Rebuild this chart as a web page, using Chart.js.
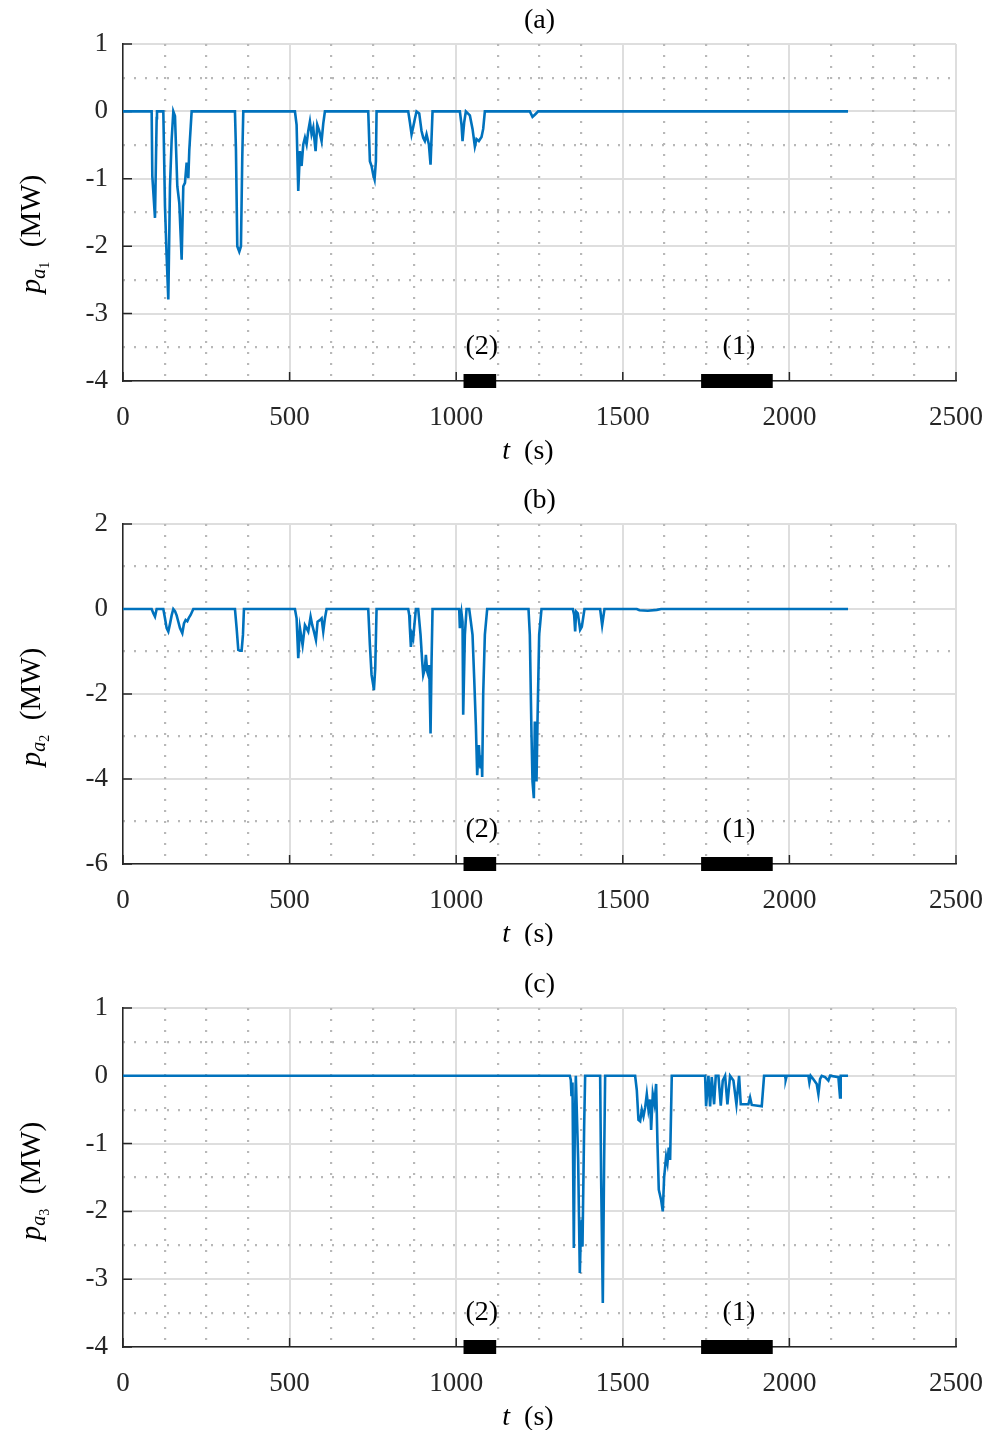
<!DOCTYPE html>
<html>
<head>
<meta charset="utf-8">
<script src="https://cdn.jsdelivr.net/npm/chart.js@4"></script>
<style>
body { margin: 0; background: #fff; }
#fig { position: relative; width: 989px; height: 1430px; background: #fff; }
canvas { position: absolute; left: 0; }
</style>
</head>
<body>
<div id="fig">
<canvas id="cA" width="989" height="466" style="top:0px"></canvas>
<canvas id="cB" width="989" height="466" style="top:480px"></canvas>
<canvas id="cC" width="989" height="466" style="top:964px"></canvas>
</div>
<script>
// time axis ticks (s)
var tTicks = [0, 500, 1000, 1500, 2000, 2500];

// events shown under the axes
var eventStart = [1022, 1735];
var eventEnd = [1120, 1950];
var eventNames = ['(2)', '(1)'];

// (a) p_a1 (MW)
var tA = [0, 86, 88, 96, 101, 102, 121, 126, 131, 136, 141, 146, 151, 156, 163, 169, 176, 181, 186, 191, 196, 199, 206,
  336, 339, 343, 349, 354, 358, 361,
  516, 521, 526, 531, 536, 541, 546, 551, 556, 561, 566, 571, 578, 583, 589, 596, 601, 606,
  736, 741, 746, 751, 755, 759, 761,
  856, 861, 866, 871, 876, 881, 889, 896, 901, 906, 911, 918, 923, 929,
  1011, 1016, 1019, 1024, 1029, 1041, 1049, 1056, 1061, 1068, 1076, 1081, 1086,
  1221, 1229, 1236, 1246, 2176];
var pA = [0, 0, -0.96, -1.58, -0.1, 0, 0, -1.41, -2.15, -2.79, -1.11, -0.42, 0, -0.07, -1.11, -1.36, -2.2, -1.11, -1.06, -0.76, -0.99, -0.57, 0,
  0, -0.57, -2.0, -2.08, -2.0, -0.67, 0,
  0, -0.2, -1.18, -0.59, -0.81, -0.49, -0.39, -0.49, -0.29, -0.15, -0.34, -0.24, -0.59, -0.2, -0.29, -0.44, -0.18, 0,
  0, -0.74, -0.81, -0.94, -1.01, -0.74, 0,
  0, -0.16, -0.34, -0.23, -0.11, 0, -0.03, -0.29, -0.39, -0.44, -0.34, -0.49, -0.79, 0,
  0, -0.2, -0.44, -0.16, 0, -0.06, -0.26, -0.52, -0.41, -0.44, -0.38, -0.26, 0,
  0, -0.08, -0.05, 0, 0];

// (b) p_a2 (MW)
var tB = [0, 86, 91, 96, 101, 121, 126, 131, 136, 141, 146, 151, 156, 161, 166, 171, 178, 183, 188, 193, 198, 203, 211,
  336, 341, 346, 351, 356, 360, 363,
  516, 521, 526, 531, 539, 546, 551, 556, 563, 568, 573, 579, 584, 591, 596, 601, 606, 611,
  736, 741, 746, 751, 753, 757, 761,
  856, 859, 861, 864, 868, 871, 874, 879, 886, 893, 898, 901, 906, 909, 913, 916, 919, 923, 926, 929,
  1009, 1011, 1016, 1019, 1021, 1026, 1031, 1039, 1044, 1049, 1054, 1059, 1063, 1068, 1071, 1073, 1076, 1078, 1081, 1086, 1093,
  1217, 1221, 1226, 1229, 1233, 1236, 1241, 1244, 1249, 1256,
  1350, 1354, 1357, 1360, 1365, 1372, 1377, 1385,
  1432, 1438, 1445,
  1542, 1550, 1575, 1602, 1615, 2176];
var pB = [0, 0, -0.1, -0.18, 0, 0, -0.22, -0.45, -0.53, -0.35, -0.15, 0, -0.05, -0.15, -0.3, -0.45, -0.57, -0.34, -0.26, -0.29, -0.2, -0.14, 0,
  0, -0.45, -0.96, -0.98, -0.98, -0.61, 0,
  0, -0.22, -1.16, -0.45, -0.85, -0.38, -0.45, -0.53, -0.18, -0.38, -0.53, -0.73, -0.3, -0.26, -0.22, -0.53, -0.22, 0,
  0, -0.85, -1.55, -1.79, -1.91, -1.4, 0,
  0, -0.14, -0.45, -0.89, -0.61, -0.69, -0.42, 0, 0, -0.61, -1.24, -1.55, -1.4, -1.08, -1.47, -1.55, -1.32, -2.93, -1.24, 0,
  0, -0.45, -0.1, -0.3, -2.49, -0.61, 0, 0, -0.3, -0.61, -1.63, -2.73, -3.91, -3.2, -3.6, -3.75, -3.44, -3.95, -2.02, -0.61, 0,
  0, -0.61, -2.96, -4.06, -4.45, -2.65, -4.06, -2.65, -0.61, 0,
  0, -0.14, -0.53, -0.06, -0.1, -0.49, -0.42, 0,
  0, -0.38, 0,
  0, -0.03, -0.04, -0.02, 0, 0];

// (c) p_a3 (MW)
var tC = [0, 1341, 1344, 1346, 1349, 1353, 1356, 1359, 1366, 1371, 1374, 1377, 1379, 1384, 1387,
  1432, 1435, 1440, 1444, 1447,
  1537, 1542, 1547, 1552, 1557, 1562, 1567, 1572, 1577, 1582, 1585, 1590, 1595, 1600, 1604, 1608, 1615, 1620, 1624, 1630, 1634, 1638, 1642, 1647,
  1747, 1750, 1757, 1762, 1767, 1774, 1779, 1787, 1794, 1800, 1807, 1814, 1822, 1832, 1841, 1849, 1854, 1877, 1882, 1887, 1917, 1924,
  1987, 1989, 1992,
  2057, 2060, 2064, 2072, 2082, 2087, 2092, 2097, 2107, 2117, 2122, 2147, 2152, 2154, 2176];
var pC = [0, 0, -0.06, -0.3, -0.1, -2.54, -0.75, 0, -1.24, -2.91, -2.32, -2.12, -2.52, -0.75, 0,
  0, -1.53, -3.35, -1.24, 0,
  0, -0.21, -0.65, -0.67, -0.5, -0.6, -0.47, -0.27, -0.5, -0.35, -0.8, -0.27, -0.41, -0.12, -0.99, -1.68, -1.83, -2.0, -1.5, -1.19, -1.29, -1.06, -1.24, 0,
  0, -0.45, 0, -0.45, -0.02, -0.42, 0, 0, -0.44, -0.07, 0, -0.42, 0, -0.07, -0.42, 0, -0.42, -0.42, -0.32, -0.43, -0.45, 0,
  0, -0.06, 0,
  0, -0.1, 0, -0.05, -0.12, -0.27, -0.05, 0, -0.02, -0.07, 0, -0.02, -0.32, 0, 0];

var serif = '"Liberation Serif", "Times New Roman", serif';
var axisColor = '#262626';
var lineColor = '#0072BD';

function pairs(ts, vs) {
  return ts.map(function (t, i) { return { x: t, y: vs[i] }; });
}

function eventData(yBase) {
  var d = [];
  for (var i = 0; i < eventStart.length; i++) {
    d.push({ x: eventStart[i], y: yBase });
    d.push({ x: eventEnd[i], y: yBase });
    d.push({ x: (eventEnd[i] + (eventStart[i + 1] || eventEnd[i] + 100)) / 2, y: null });
  }
  return d;
}

// draws inward ticks, title, axis labels and event names
var decor = {
  id: 'decor',
  beforeDatasetsDraw: function (chart) {
    var ctx = chart.ctx, a = chart.chartArea;
    var sx = chart.scales.x, sy = chart.scales.y;
    ctx.save();
    ctx.strokeStyle = axisColor;
    ctx.lineWidth = 1.5;
    ctx.beginPath();
    sx.ticks.forEach(function (t) {
      var px = sx.getPixelForValue(t.value);
      ctx.moveTo(px, a.bottom); ctx.lineTo(px, a.bottom - 9);
    });
    sy.ticks.forEach(function (t) {
      var py = sy.getPixelForValue(t.value);
      ctx.moveTo(a.left, py); ctx.lineTo(a.left + 9, py);
    });
    ctx.stroke();
    ctx.restore();
  },
  afterDraw: function (chart) {
    var o = chart.options.plugins.decor;
    var ctx = chart.ctx, a = chart.chartArea;
    var sx = chart.scales.x;
    ctx.save();
    ctx.fillStyle = '#000';
    ctx.textAlign = 'center';
    ctx.textBaseline = 'middle';
    ctx.font = '28px ' + serif;
    ctx.fillText(o.title, (a.left + a.right) / 2, a.top - 23);

    for (var i = 0; i < eventNames.length; i++) {
      var cx = sx.getPixelForValue((eventStart[i] + eventEnd[i]) / 2);
      ctx.fillText(eventNames[i], cx + 2, a.bottom - 34);
    }

    // x label: t (s)
    ctx.textAlign = 'left';
    ctx.textBaseline = 'alphabetic';
    var xl = [['t', 'italic 28px ' + serif], ['\u2002(s)', '28px ' + serif]];
    var w = 0;
    xl.forEach(function (p) { ctx.font = p[1]; w += ctx.measureText(p[0]).width; });
    var x0 = 528 - w / 2, yb = a.bottom + 78;
    xl.forEach(function (p) { ctx.font = p[1]; ctx.fillText(p[0], x0, yb); x0 += ctx.measureText(p[0]).width; });

    // y label: p_{a_k} (MW)
    ctx.translate(40, o.yLabelY);
    ctx.rotate(-Math.PI / 2);
    var yl = [['p', 'italic 29px ' + serif, 0], ['a', 'italic 20px ' + serif, 5], [o.sub, '14px ' + serif, 9], ['\u2002(MW)', '29px ' + serif, 0]];
    w = 0;
    yl.forEach(function (p) { ctx.font = p[1]; w += ctx.measureText(p[0]).width; });
    x0 = -w / 2;
    yl.forEach(function (p) { ctx.font = p[1]; ctx.fillText(p[0], x0, p[2]); x0 += ctx.measureText(p[0]).width; });
    ctx.restore();
  }
};

function makePanel(id, ts, vs, yMin, yMax, yStep, xAxisH, title, sub, yLabelY) {
  new Chart(document.getElementById(id), {
    type: 'line',
    data: {
      datasets: [{
        data: pairs(ts, vs),
        borderColor: lineColor,
        borderWidth: 2.6,
        pointRadius: 0,
        tension: 0,
        xAxisID: 'x', yAxisID: 'y'
      }, {
        data: eventData(yMin),
        borderColor: '#000',
        borderWidth: 14,
        borderCapStyle: 'butt',
        pointRadius: 0,
        spanGaps: false,
        clip: false,
        xAxisID: 'x', yAxisID: 'y'
      }]
    },
    options: {
      responsive: false,
      animation: false,
      events: [],
      layout: { padding: { top: 44, left: 0, right: 33, bottom: 0 } },
      plugins: {
        legend: { display: false },
        tooltip: { enabled: false },
        decor: { title: title, sub: sub, yLabelY: yLabelY }
      },
      scales: {
        x: {
          type: 'linear', position: 'bottom', min: 0, max: 2500,
          afterBuildTicks: function (s) { s.ticks = tTicks.map(function (v) { return { value: v }; }); },
          ticks: { font: { family: serif, size: 27 }, color: axisColor, padding: 21, maxRotation: 0, autoSkip: false,
            callback: function (v) { return String(v); } },
          grid: { color: '#dedede', lineWidth: 2, drawTicks: false },
          border: { color: axisColor, width: 1.5 },
          afterFit: function (s) { s.height = xAxisH; s.paddingLeft = 0; s.paddingRight = 0; }
        },
        y: {
          type: 'linear', position: 'left', min: yMin, max: yMax,
          ticks: { stepSize: yStep, font: { family: serif, size: 27 }, color: axisColor, padding: 15,
            callback: function (v) { return String(v); } },
          grid: { color: '#dedede', lineWidth: 2, drawTicks: false },
          border: { color: axisColor, width: 1.5 },
          afterFit: function (s) { s.width = 123; s.paddingTop = 0; s.paddingBottom = 0; }
        },
        xm: {
          type: 'linear', position: 'top', min: 0, max: 2500,
          ticks: { display: false, stepSize: 125 },
          grid: { drawTicks: false, lineWidth: 2.2,
            color: function (c) { return c.tick && c.tick.value % 500 === 0 ? 'rgba(0,0,0,0)' : '#b8b8b8'; } },
          border: { display: false, dash: [2, 9] },
          afterFit: function (s) { s.height = 0; s.paddingLeft = 0; s.paddingRight = 0; }
        },
        ym: {
          type: 'linear', position: 'right', min: yMin, max: yMax,
          ticks: { display: false, stepSize: yStep / 2 },
          grid: { drawTicks: false, lineWidth: 2.2,
            color: function (c) { return c.tick && Math.abs(c.tick.value / yStep - Math.round(c.tick.value / yStep)) < 1e-6 ? 'rgba(0,0,0,0)' : '#b8b8b8'; } },
          border: { display: false, dash: [2, 9] },
          afterFit: function (s) { s.width = 0; s.paddingTop = 0; s.paddingBottom = 0; }
        }
      }
    },
    plugins: [decor]
  });
}

makePanel('cA', tA, pA, -4, 1, 1, 85, '(a)', '1', 234);
makePanel('cB', tB, pB, -6, 2, 2, 82, '(b)', '2', 227);
makePanel('cC', tC, pC, -4, 1, 1, 83, '(c)', '3', 217);
</script>
</body>
</html>
